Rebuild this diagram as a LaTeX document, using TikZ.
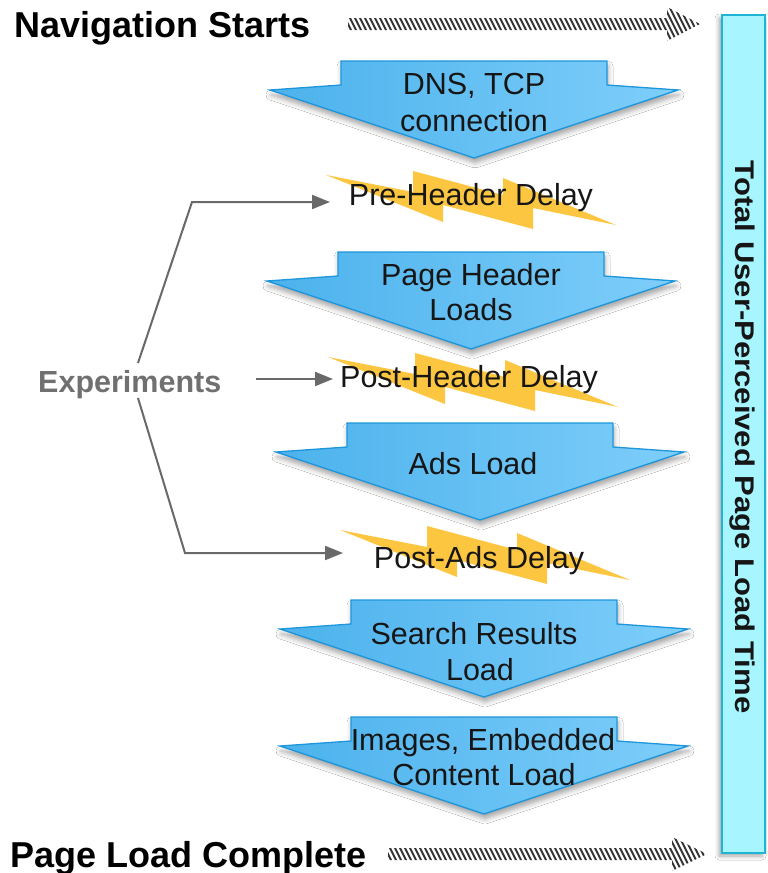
\documentclass[tikz,border=0pt]{standalone}
\usepackage{fontspec}
\setmainfont{Liberation Sans}
\usepackage{graphicx}
\usetikzlibrary{arrows.meta,shadows.blur}

\definecolor{flowL}{RGB}{76,178,236}
\definecolor{flowR}{RGB}{126,206,250}
\definecolor{flowEdge}{RGB}{30,150,220}
\definecolor{boltc}{RGB}{253,198,64}
\definecolor{expgray}{RGB}{112,112,112}
\definecolor{linegray}{RGB}{105,105,105}
\definecolor{hatchc}{RGB}{50,50,50}
\definecolor{barfill}{RGB}{166,245,255}
\definecolor{baredge}{RGB}{30,180,212}
\definecolor{inktext}{RGB}{22,22,22}

\tikzset{
  flowshape/.style={draw=flowEdge, line width=1.3pt, line join=miter,
    left color=flowL, right color=flowR,
    blur shadow={shadow xshift=1pt, shadow yshift=-5pt, shadow blur radius=5pt, shadow opacity=35}},
  lbl/.style={anchor=base, inner sep=0pt, text=inktext, font=\fontsize{30.5}{36}\selectfont},
  head/.style={anchor=base west, inner sep=0pt, font=\bfseries\fontsize{36}{40}\selectfont},
  exptext/.style={anchor=base west, inner sep=0pt, text=expgray, font=\bfseries\fontsize{30.5}{36}\selectfont},
  exparrow/.style={draw=linegray, line width=2pt, line join=miter,
    -{Triangle[length=18pt, width=14pt]}},
  hatchline/.style={draw=hatchc, line width=2pt},
}

% down-pointing block arrow: centre x, top y
\newcommand\flowarrow[2]{%
  \path[flowshape] (#1-133,#2) -- (#1+133,#2) -- (#1+133,#2+24) -- (#1+204,#2+29)
    -- (#1,#2+97) -- (#1-204,#2+29) -- (#1-133,#2+24) -- cycle;}

% zig-zag delay bolt: position of its left tip
\newcommand\delaybolt[2]{%
  \fill[boltc, shift={(#1,#2)}] (0,0) -- (87,17) -- (87,-4) -- (177,20) -- (177,3)
    -- (290,50) -- (207,33) -- (207,54) -- (117,30) -- (117,47) -- cycle;}

% striped timeline arrow: left x, head base x, tip x, centre y
\newcommand\hatcharrow[4]{%
  \begin{scope}
    \clip (#1,#4-6) -- (#2,#4-6) -- (#2,#4-17) -- (#3,#4) -- (#2,#4+17) -- (#2,#4+6) -- (#1,#4+6) -- cycle;
    \foreach \k in {0,...,75}
      \draw[hatchline] (#1-25+\k*5,#4-20) -- (#1-5+\k*5,#4+20);
  \end{scope}}

\begin{document}
\begin{tikzpicture}[x=1pt, y=-1pt]
  \useasboundingbox (0,0) rectangle (768,873);
  \fill[white] (0,0) rectangle (768,873);

  % total time bar on the right
  \path[fill=barfill, draw=baredge, line width=1.5pt,
    blur shadow={shadow xshift=-3pt, shadow yshift=-3pt, shadow blur radius=4pt, shadow opacity=35}]
    (722,15) rectangle (765,853);
  \node[rotate=-90, inner sep=0pt, text=inktext, font=\bfseries\fontsize{27}{30}\selectfont]
    (total) at (742,437) {\scalebox{1.15}[1]{Total User-Perceived Page Load Time}};

  % start and end of navigation
  \node[head] (navstart) at (14.5,37) {Navigation Starts};
  \node[head] (navend) at (10.5,867) {Page Load Complete};
  \hatcharrow{348}{667}{700}{24}
  \hatcharrow{388}{672}{707}{854}

  % loading stages
  \flowarrow{474}{61}
  \flowarrow{471}{252}
  \flowarrow{480}{423}
  \flowarrow{484}{600}
  \flowarrow{484}{717}

  % injected delays
  \delaybolt{326}{175}
  \delaybolt{328}{357}
  \delaybolt{340}{530}

  \node[lbl] (dnsA) at (474,94) {DNS, TCP};
  \node[lbl] (dnsB) at (474,131) {connection};
  \node[lbl] (pre) at (471,205) {Pre-Header Delay};
  \node[lbl] (phA) at (471,285) {Page Header};
  \node[lbl] (phB) at (471,320) {Loads};
  \node[lbl] (posth) at (469,387) {Post-Header Delay};
  \node[lbl] (ads) at (473,474) {Ads Load};
  \node[lbl] (posta) at (479,568) {Post-Ads Delay};
  \node[lbl] (srA) at (474,644) {Search Results};
  \node[lbl] (srB) at (480,680) {Load};
  \node[lbl] (imA) at (483,750) {Images, Embedded};
  \node[lbl] (imB) at (484,785) {Content Load};

  % experiments feeding the delays
  \node[exptext] (exp) at (38,392) {Experiments};
  \coordinate (s1) at (138,363);
  \coordinate (k1) at (192,202);
  \coordinate (t1) at (330,202);
  \coordinate (s2) at (256,379);
  \coordinate (t2) at (333,379);
  \coordinate (s3) at (138,398);
  \coordinate (k3) at (185,553);
  \coordinate (t3) at (343,553);
  \draw[exparrow] (s1) -- (k1) -- (t1);
  \draw[exparrow] (s2) -- (t2);
  \draw[exparrow] (s3) -- (k3) -- (t3);
\end{tikzpicture}
\end{document}
